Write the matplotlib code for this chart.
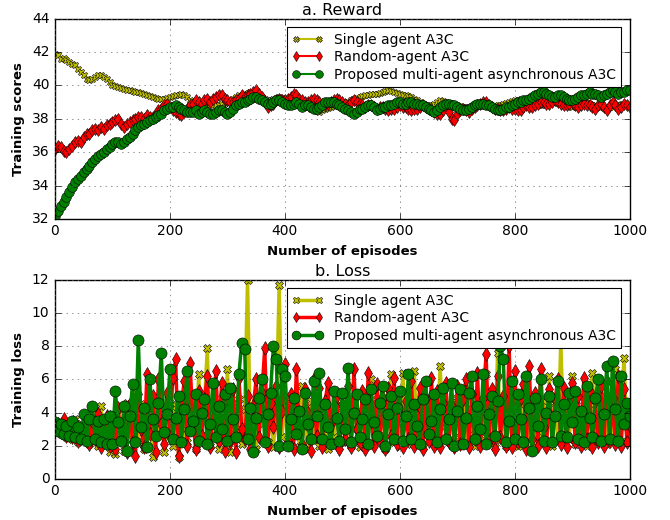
import numpy as np
import matplotlib
matplotlib.use('Agg')
import matplotlib.pyplot as plt

plt.style.use('classic')

labels = ['Single agent A3C', 'Random-agent A3C', 'Proposed multi-agent asynchronous A3C']

# Reward, read every 5 episodes
reward_episodes = np.arange(0, 1001, 5)
reward_single = [
    41.9, 41.8, 41.6, 41.65, 41.5, 41.4, 41.3, 41.2, 41.0, 40.8,
    40.6, 40.4, 40.3, 40.4, 40.5, 40.6, 40.6, 40.5, 40.4, 40.2,
    40.0, 39.95, 39.9, 39.85, 39.8, 39.75, 39.7, 39.65, 39.6, 39.6,
    39.55, 39.5, 39.4, 39.35, 39.3, 39.25, 39.2, 39.2, 39.2, 39.25,
    39.3, 39.35, 39.4, 39.45, 39.5, 39.4, 39.3, 39.15, 39.0, 38.95,
    38.9, 38.95, 39.0, 38.95, 38.9, 38.85, 38.8, 38.85, 38.9, 38.95,
    39.0, 39.1, 39.2, 39.3, 39.4, 39.45, 39.5, 39.55, 39.6, 39.55,
    39.5, 39.4, 39.3, 39.2, 39.1, 39.15, 39.2, 39.25, 39.3, 39.25,
    39.2, 39.15, 39.1, 39.05, 39.0, 38.95, 38.9, 38.8, 38.7, 38.6,
    38.5, 38.45, 38.4, 38.5, 38.6, 38.65, 38.7, 38.75, 38.8, 38.85,
    38.9, 38.95, 39.0, 39.1, 39.2, 39.25, 39.3, 39.35, 39.4, 39.45,
    39.5, 39.5, 39.5, 39.55, 39.6, 39.65, 39.7, 39.65, 39.6, 39.55,
    39.5, 39.45, 39.4, 39.35, 39.3, 39.2, 39.1, 39.0, 38.9, 38.85,
    38.8, 38.85, 38.9, 39.0, 39.1, 39.05, 39.0, 38.95, 38.9, 38.85,
    38.8, 38.75, 38.7, 38.7, 38.7, 38.75, 38.8, 38.85, 38.9, 38.85,
    38.8, 38.75, 38.7, 38.75, 38.8, 38.85, 38.9, 38.95, 39.0, 39.05,
    39.1, 39.15, 39.2, 39.15, 39.1, 39.05, 39.0, 38.9, 38.8, 38.85,
    38.9, 38.95, 39.0, 39.0, 39.0, 38.95, 38.9, 38.85, 38.8, 38.75,
    38.7, 38.75, 38.8, 38.9, 39.0, 38.95, 38.9, 38.85, 38.8, 38.75,
    38.7, 38.65, 38.6, 38.7, 38.8, 38.85, 38.9, 38.85, 38.8, 38.85,
    38.9]
reward_random = [
    36.2, 36.4, 36.3, 36.1, 36.0, 36.2, 36.4, 36.6, 36.7, 36.6,
    36.9, 37.1, 37.1, 37.3, 37.4, 37.3, 37.5, 37.4, 37.6, 37.7,
    37.8, 37.9, 38.0, 37.7, 37.5, 37.7, 37.8, 37.9, 38.0, 38.1,
    38.1, 38.0, 38.2, 38.1, 38.1, 38.3, 38.5, 38.6, 38.8, 38.9,
    38.7, 38.5, 38.4, 38.3, 38.2, 38.4, 38.6, 38.8, 38.9, 39.1,
    39.0, 38.9, 39.1, 39.2, 39.0, 39.2, 39.3, 39.4, 39.4, 39.2,
    39.1, 39.0, 39.0, 39.1, 39.2, 39.4, 39.3, 39.4, 39.5, 39.6,
    39.7, 39.5, 39.3, 39.0, 38.7, 38.8, 38.9, 39.1, 39.2, 39.1,
    39.1, 39.2, 39.3, 39.5, 39.4, 39.2, 39.1, 39.0, 39.0, 39.1,
    39.2, 39.1, 39.0, 38.9, 38.8, 38.9, 39.0, 39.1, 39.2, 39.1,
    39.0, 38.9, 38.8, 39.0, 39.1, 39.0, 38.9, 38.8, 38.7, 38.8,
    38.8, 38.7, 38.6, 38.7, 38.7, 38.6, 38.5, 38.6, 38.6, 38.7,
    38.8, 38.7, 38.7, 38.6, 38.5, 38.6, 38.6, 38.7, 38.8, 38.7,
    38.6, 38.5, 38.4, 38.3, 38.3, 38.5, 38.7, 38.4, 38.0, 37.9,
    38.3, 38.5, 38.6, 38.5, 38.4, 38.6, 38.7, 38.8, 38.9, 39.0,
    39.0, 38.8, 38.7, 38.6, 38.6, 38.5, 38.5, 38.6, 38.7, 38.6,
    38.6, 38.5, 38.5, 38.7, 38.8, 38.7, 38.7, 38.8, 38.9, 39.0,
    39.0, 38.9, 38.9, 39.0, 39.1, 39.0, 38.9, 38.8, 38.8, 38.9,
    39.0, 38.8, 38.7, 38.8, 38.9, 38.8, 38.8, 38.7, 38.6, 38.8,
    38.9, 38.7, 38.5, 38.8, 39.0, 38.8, 38.6, 38.7, 38.9, 38.8,
    38.7]
reward_multi = [
    32.2, 32.5, 32.8, 33.0, 33.3, 33.6, 33.9, 34.2, 34.4, 34.6,
    34.8, 35.0, 35.2, 35.4, 35.6, 35.8, 35.9, 36.0, 36.2, 36.3,
    36.5, 36.6, 36.6, 36.5, 36.6, 36.8, 36.9, 37.1, 37.3, 37.5,
    37.6, 37.7, 37.8, 37.9, 38.0, 38.1, 38.2, 38.3, 38.5, 38.6,
    38.7, 38.7, 38.8, 38.7, 38.6, 38.5, 38.4, 38.4, 38.4, 38.5,
    38.3, 38.4, 38.5, 38.4, 38.3, 38.3, 38.4, 38.5, 38.5, 38.4,
    38.3, 38.4, 38.6, 38.8, 38.9, 39.0, 39.0, 39.1, 39.2, 39.3,
    39.3, 39.2, 39.1, 39.0, 38.9, 38.9, 39.0, 39.1, 39.1, 39.0,
    38.9, 38.8, 38.8, 38.9, 39.0, 38.9, 38.7, 38.8, 38.8, 38.7,
    38.6, 38.6, 38.7, 38.8, 39.0, 39.0, 39.0, 39.0, 38.9, 38.8,
    38.7, 38.6, 38.5, 38.4, 38.3, 38.4, 38.6, 38.6, 38.7, 38.8,
    38.8, 38.7, 38.5, 38.6, 38.7, 38.7, 38.8, 38.8, 38.9, 39.0,
    39.0, 38.9, 38.9, 39.0, 39.0, 38.9, 38.9, 38.8, 38.8, 38.7,
    38.6, 38.5, 38.4, 38.5, 38.7, 38.8, 38.9, 38.9, 38.8, 38.8,
    38.7, 38.6, 38.5, 38.5, 38.6, 38.7, 38.8, 38.9, 38.9, 38.9,
    38.8, 38.8, 38.7, 38.6, 38.5, 38.5, 38.6, 38.7, 38.7, 38.8,
    38.9, 39.0, 39.0, 39.1, 39.1, 39.2, 39.3, 39.4, 39.5, 39.6,
    39.6, 39.5, 39.4, 39.3, 39.3, 39.4, 39.4, 39.3, 39.2, 39.1,
    39.1, 39.2, 39.3, 39.4, 39.4, 39.5, 39.6, 39.5, 39.5, 39.4,
    39.3, 39.4, 39.5, 39.6, 39.7, 39.6, 39.5, 39.6, 39.6, 39.7,
    39.7]

# Loss, read every 5 episodes
loss_episodes = np.arange(0, 1001, 5)
loss_single = [
    2.9, 3.2, 2.7, 3.5, 2.5, 3.1, 2.4, 3.6, 2.2, 3.3, 2.6, 3.0, 2.1, 3.4, 4.0, 2.0, 4.4, 2.3, 3.7, 1.6,
    3.9, 1.5, 4.2, 2.5, 1.7, 4.6, 3.0, 2.4, 5.2, 2.2, 4.5, 1.8, 3.6, 4.8, 1.3, 4.1, 2.7, 4.3, 1.6, 3.9,
    4.6, 2.0, 4.4, 1.3, 4.0, 3.0, 2.2, 3.5, 4.1, 1.8, 6.3, 2.6, 4.4, 7.9, 2.0, 4.2, 3.2, 1.8, 4.9, 2.4,
    6.6, 1.6, 4.5, 3.0, 4.8, 2.1, 4.2, 12.0, 2.6, 4.0, 1.8, 4.6, 3.3, 4.5, 2.2, 4.0, 1.9, 4.2, 11.7, 2.5,
    4.8, 2.0, 4.6, 2.7, 4.3, 1.9, 5.6, 3.1, 1.8, 4.7, 2.4, 4.5, 2.0, 4.1, 3.2, 1.8, 4.0, 2.5, 4.4, 1.9,
    4.3, 2.2, 4.6, 2.0, 4.8, 3.0, 1.9, 4.1, 2.4, 4.3, 6.0, 2.1, 4.8, 2.6, 4.5, 1.8, 4.2, 6.3, 2.2, 4.0,
    2.0, 6.4, 3.1, 4.7, 2.1, 6.5, 2.4, 4.2, 1.9, 4.6, 3.2, 2.3, 4.0, 2.0, 6.8, 3.1, 4.4, 2.2, 4.6, 2.0,
    4.9, 2.5, 4.7, 2.1, 4.3, 3.0, 2.0, 4.2, 2.6, 4.6, 6.3, 2.2, 4.1, 1.9, 7.6, 2.4, 4.8, 2.0, 4.5, 2.3,
    4.9, 2.0, 4.5, 2.4, 6.0, 2.1, 4.3, 1.9, 4.8, 2.5, 4.7, 2.2, 6.2, 2.0, 4.6, 2.3, 8.3, 2.1, 4.2, 2.4,
    6.2, 2.1, 4.0, 2.3, 4.7, 2.0, 4.6, 6.4, 2.2, 4.3, 2.5, 5.0, 2.1, 4.9, 2.4, 6.6, 2.2, 4.4, 7.3, 2.3,
    3.4]
loss_random = [
    3.0, 3.3, 2.8, 3.6, 2.6, 3.1, 2.5, 3.2, 2.3, 3.0, 2.7, 3.4, 2.1, 3.5, 2.4, 3.9, 1.9, 3.2, 3.8, 2.0,
    3.6, 1.8, 4.3, 2.4, 3.2, 1.6, 4.5, 2.2, 1.4, 5.1, 3.0, 1.9, 6.3, 2.7, 5.0, 1.6, 6.0, 3.3, 2.1, 5.2,
    2.5, 6.1, 7.2, 1.4, 4.6, 5.9, 2.0, 7.0, 3.4, 1.8, 5.3, 2.6, 4.8, 6.2, 1.9, 3.7, 6.5, 2.3, 5.8, 1.7,
    4.9, 2.2, 5.4, 1.6, 6.1, 3.0, 2.4, 5.0, 1.8, 4.4, 6.0, 2.5, 5.2, 7.9, 2.0, 4.6, 3.1, 5.6, 1.9, 4.1,
    6.9, 2.3, 5.1, 1.8, 6.6, 3.2, 2.1, 5.4, 4.0, 1.7, 6.0, 2.6, 5.5, 1.9, 4.7, 5.8, 2.2, 3.6, 5.0, 1.8,
    4.5, 2.4, 5.6, 1.9, 6.6, 3.0, 2.2, 5.3, 1.8, 6.4, 3.5, 2.0, 5.7, 2.3, 4.9, 1.8, 5.5, 2.6, 6.1, 2.1,
    5.2, 1.9, 4.7, 2.4, 5.9, 2.0, 3.8, 5.5, 1.8, 4.9, 2.3, 6.1, 2.0, 5.3, 1.9, 4.6, 5.8, 2.2, 4.4, 1.9,
    5.6, 2.1, 4.8, 6.0, 1.9, 5.1, 2.4, 6.4, 2.0, 4.9, 7.5, 2.3, 5.4, 1.8, 6.2, 2.5, 5.0, 2.0, 8.0, 1.9,
    6.5, 2.2, 4.9, 5.7, 1.8, 6.8, 2.4, 5.2, 2.0, 6.6, 3.1, 1.9, 5.4, 2.3, 4.8, 6.0, 2.1, 5.5, 1.9, 4.6,
    5.8, 2.2, 5.0, 2.0, 6.1, 2.4, 5.3, 1.9, 4.7, 2.2, 5.6, 2.0, 5.9, 2.3, 4.9, 2.1, 6.2, 2.0, 5.4, 2.2,
    3.2]
loss_multi = [
    3.4, 2.9, 3.3, 2.7, 3.2, 2.6, 3.5, 2.5, 3.1, 2.4, 3.9, 2.3, 3.6, 4.4, 2.4, 3.5, 2.2, 3.6, 2.1, 3.8,
    2.1, 5.3, 3.4, 2.3, 4.4, 1.7, 3.8, 5.7, 2.2, 8.4, 3.1, 4.3, 1.9, 6.0, 3.6, 2.6, 4.6, 7.6, 2.8, 3.9,
    6.6, 2.4, 3.7, 5.0, 2.2, 4.2, 6.5, 2.9, 3.5, 5.1, 2.3, 4.0, 4.8, 2.1, 3.3, 5.8, 2.5, 4.4, 3.0, 5.1,
    2.3, 5.5, 3.6, 2.5, 6.3, 8.2, 7.8, 2.4, 4.3, 1.6, 3.7, 4.9, 6.0, 2.2, 3.9, 5.2, 8.0, 7.2, 2.0, 6.6,
    6.2, 2.0, 3.6, 4.9, 2.7, 4.1, 1.8, 5.2, 3.3, 2.4, 5.9, 3.8, 6.4, 2.4, 4.5, 3.1, 2.1, 5.3, 3.7, 2.3,
    5.2, 3.0, 6.7, 2.2, 4.0, 5.1, 2.5, 3.6, 4.8, 2.1, 5.4, 3.4, 2.6, 4.6, 5.6, 2.0, 3.9, 5.0, 2.4, 4.3,
    5.3, 2.3, 3.8, 6.3, 2.4, 4.5, 3.2, 2.1, 4.8, 5.9, 2.7, 3.5, 5.1, 2.2, 4.2, 5.5, 2.4, 3.6, 5.8, 2.0,
    4.1, 5.4, 2.1, 3.7, 5.2, 6.2, 2.4, 4.4, 3.0, 6.3, 2.1, 3.9, 5.0, 2.6, 4.7, 8.0, 7.2, 2.2, 3.5, 5.9,
    2.4, 5.1, 3.6, 2.2, 6.2, 4.3, 1.7, 4.9, 3.2, 6.0, 2.3, 4.0, 5.0, 2.2, 3.8, 5.9, 2.6, 4.5, 2.5, 5.2,
    3.4, 5.3, 2.4, 4.1, 2.2, 5.6, 3.7, 2.5, 4.9, 6.0, 2.3, 3.9, 6.8, 2.4, 7.1, 4.2, 2.3, 6.2, 3.3, 4.6,
    3.8]

colors = ['y', 'r', 'g']
markers = ['X', 'd', 'o']
reward_sizes = [5, 6, 7]
loss_sizes = [6, 7, 8]

fig = plt.figure(figsize=(6.7, 5.2), dpi=100)
fig.patch.set_facecolor('white')
ax1 = fig.add_axes([0.082, 0.579, 0.858, 0.385])
ax2 = fig.add_axes([0.082, 0.079, 0.858, 0.383])

# Reward
for ys, c, m, s, lab in zip([reward_single, reward_random, reward_multi], colors, markers, reward_sizes, labels):
    ax1.plot(reward_episodes, ys, color=c, marker=m, markersize=s, mec='k', mew=0.4, lw=1.5, label=lab)
ax1.set_xlim(0, 1000)
ax1.set_ylim(32, 44)
ax1.set_yticks(np.arange(32, 45, 2))
ax1.set_title('a. Reward', fontsize=11.5, pad=3)
ax1.set_xlabel('Number of episodes', fontweight='bold', fontsize=9.5)
ax1.set_ylabel('Training scores', fontweight='bold', fontsize=9.5)

# Loss
for ys, c, m, s, lab in zip([loss_single, loss_random, loss_multi], colors, markers, loss_sizes, labels):
    ax2.plot(loss_episodes, ys, color=c, marker=m, markersize=s, mec='k', mew=0.4, lw=2.5, label=lab)
ax2.set_xlim(0, 1000)
ax2.set_ylim(0, 12)
ax2.set_yticks(np.arange(0, 13, 2))
ax2.set_title('b. Loss', fontsize=11.5, pad=3)
ax2.set_xlabel('Number of episodes', fontweight='bold', fontsize=9.5)
ax2.set_ylabel('Training loss', fontweight='bold', fontsize=9.5)

for ax in (ax1, ax2):
    ax.set_xticks(np.arange(0, 1001, 200))
    ax.tick_params(labelsize=10)
    ax.grid(True, linestyle=':', color='0.4')
    leg = ax.legend(loc='upper right', numpoints=2, fontsize=10, borderaxespad=0.6,
                    handlelength=2.2, labelspacing=0.25, markerscale=0.8)
    leg.get_frame().set_linewidth(0.8)

fig.savefig('out.png', dpi=100, facecolor='white')
